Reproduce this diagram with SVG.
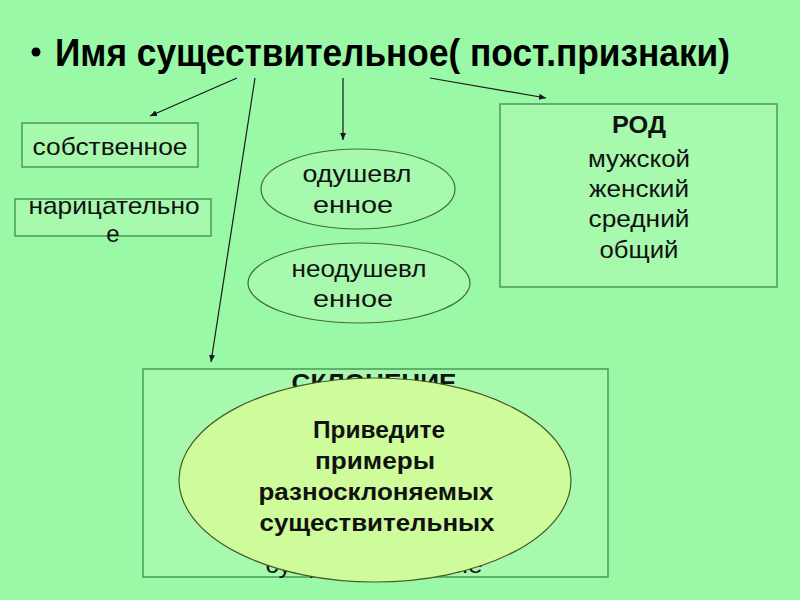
<svg xmlns="http://www.w3.org/2000/svg" width="800" height="600" viewBox="0 0 800 600">
<defs>
<marker id="ah" markerWidth="8" markerHeight="8" refX="7" refY="4" orient="auto" markerUnits="userSpaceOnUse">
<path d="M0,1 L7,4 L0,7 Z" fill="#1a1a1a"/>
</marker>
<style>
.bg{fill:#99F9A6}
.box{fill:#A7F9AE;stroke:#3F8A4A;stroke-width:1.3}
.ell{fill:#A7F9AE;stroke:#3F6A3A;stroke-width:1.2}
.big{fill:#CEFC9B;stroke:#4A5A2A;stroke-width:1.2}
.t{font-family:"Liberation Sans",Arial,sans-serif;font-size:24px;fill:#111;text-anchor:middle}
.b{font-weight:bold}
.conn line{stroke:#1a1a1a;stroke-width:1.2;marker-end:url(#ah)}
</style>
</defs>
<rect class="bg" x="0" y="0" width="800" height="600"/>
<g id="title">
<circle cx="36" cy="52" r="4.5" fill="#000"/>
<text x="55" y="66" font-family="'Liberation Sans',Arial,sans-serif" font-size="38" font-weight="bold" fill="#000" textLength="675" lengthAdjust="spacingAndGlyphs">Имя существительное( пост.признаки)</text>
</g>
<g id="connectors" class="conn">
<line x1="237" y1="78" x2="150" y2="116"/>
<line x1="255" y1="78" x2="211" y2="362"/>
<line x1="343" y1="78" x2="343" y2="140"/>
<line x1="430" y1="78" x2="546" y2="98"/>
</g>
<g id="sobstvennoe">
<rect class="box" x="22" y="123" width="176" height="44"/>
<text class="t" x="110" y="155" textLength="155" lengthAdjust="spacingAndGlyphs">собственное</text>
</g>
<g id="naritsatelnoe">
<rect class="box" x="15" y="199" width="196" height="37"/>
<text class="t" x="114" y="214" textLength="171" lengthAdjust="spacingAndGlyphs">нарицательно</text>
<text class="t" x="113" y="242">е</text>
</g>
<g id="odushevl">
<ellipse class="ell" cx="358" cy="189" rx="97" ry="40"/>
<text class="t" x="357" y="182" textLength="109" lengthAdjust="spacingAndGlyphs">одушевл</text>
<text class="t" x="353" y="213" textLength="80" lengthAdjust="spacingAndGlyphs">енное</text>
</g>
<g id="neodushevl">
<ellipse class="ell" cx="359" cy="283" rx="111" ry="40"/>
<text class="t" x="359" y="277" textLength="135" lengthAdjust="spacingAndGlyphs">неодушевл</text>
<text class="t" x="353" y="307" textLength="80" lengthAdjust="spacingAndGlyphs">енное</text>
</g>
<g id="rod">
<rect class="box" x="500" y="104" width="277" height="183"/>
<text class="t b" x="639" y="133" textLength="54" lengthAdjust="spacingAndGlyphs">РОД</text>
<text class="t" x="639" y="167" textLength="102" lengthAdjust="spacingAndGlyphs">мужской</text>
<text class="t" x="639" y="197" textLength="100" lengthAdjust="spacingAndGlyphs">женский</text>
<text class="t" x="639" y="227" textLength="101" lengthAdjust="spacingAndGlyphs">средний</text>
<text class="t" x="639" y="258" textLength="79" lengthAdjust="spacingAndGlyphs">общий</text>
</g>
<g id="sklonenie">
<rect class="box" x="143" y="369" width="465" height="208"/>
<text class="t b" x="374" y="391" textLength="165" lengthAdjust="spacingAndGlyphs">СКЛОНЕНИЕ</text>
<text class="t" x="374" y="573" textLength="217" lengthAdjust="spacingAndGlyphs">существительные</text>
</g>
<g id="privedite">
<ellipse class="big" cx="375" cy="480" rx="196" ry="102"/>
<text class="t b" x="379" y="438" textLength="132" lengthAdjust="spacingAndGlyphs">Приведите</text>
<text class="t b" x="375" y="469" textLength="120" lengthAdjust="spacingAndGlyphs">примеры</text>
<text class="t b" x="376" y="500" textLength="235" lengthAdjust="spacingAndGlyphs">разносклоняемых</text>
<text class="t b" x="377" y="531" textLength="235" lengthAdjust="spacingAndGlyphs">существительных</text>
</g>
</svg>
